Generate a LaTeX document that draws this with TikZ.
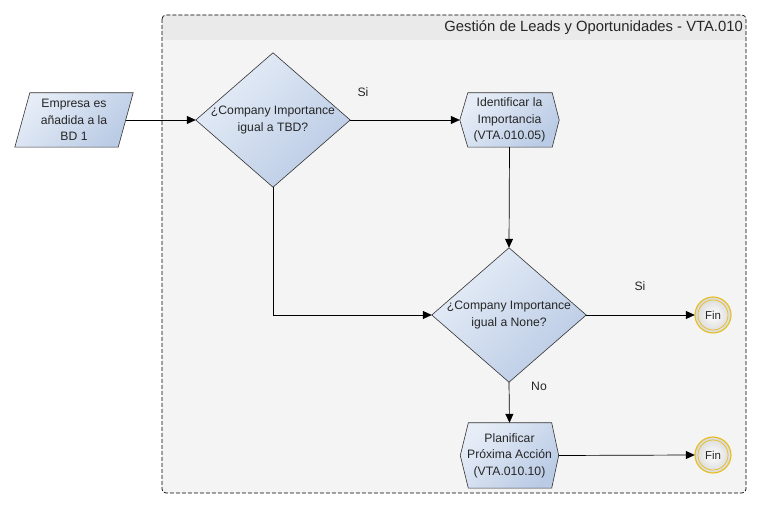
\documentclass[tikz,border=0pt]{standalone}
\usepackage{fontspec}
\setmainfont{Liberation Sans}
\usetikzlibrary{arrows.meta,calc}
\pgfdeclarelayer{bg}
\pgfsetlayers{bg,main}
\definecolor{shlight}{RGB}{230,237,247}
\definecolor{shdark}{RGB}{186,203,229}
\definecolor{finyel}{RGB}{230,190,30}
\definecolor{poolbg}{RGB}{244,244,244}
\definecolor{headbg}{RGB}{234,234,234}
\begin{document}
\begin{tikzpicture}[x=1pt,y=-1pt,
  shapefill/.style={draw=black!80, line width=0.6pt, top color=shlight, bottom color=shdark, shading angle=45},
  box/.style={draw=none, inner sep=0pt, align=center, font=\fontsize{12.2}{16.5}\selectfont, text=black!85},
  lbl/.style={font=\fontsize{12.2}{14}\selectfont, text=black!85, inner sep=0pt},
  conn/.style={line width=0.7pt, -{Triangle[length=9pt,width=8pt]}},
  finnode/.style={circle, minimum size=36pt, inner sep=0pt, font=\fontsize{11.5}{13}\selectfont, text=black!85}
]
\useasboundingbox (0,0) rectangle (761,510);

% nodes
\node[box, minimum width=103pt, minimum height=54pt] (start) at (74,120) {Empresa es\\añadida a la\\BD 1};
\node[box, minimum width=154pt, minimum height=134pt] (q1) at (273,120) {¿Company Importance\\igual a TBD?};
\node[box, minimum width=99pt, minimum height=54pt] (ident) at (509.5,120) {Identificar la\\Importancia\\(VTA.010.05)};
\node[box, minimum width=154pt, minimum height=134pt] (q2) at (509,315) {¿Company Importance\\igual a None?};
\node[box, minimum width=98pt, minimum height=65pt] (plan) at (509.5,455.5) {Planificar\\Próxima Acción\\(VTA.010.10)};
\node[finnode] (fin1) at (713,315) {Fin};
\node[finnode] (fin2) at (713,455) {Fin};
\node[anchor=east, font=\fontsize{14.8}{16}\selectfont, text=black!85, inner sep=0pt] (title) at (743,28) {Gestión de Leads y Oportunidades - VTA.010};
\node[lbl] (si1) at (363,92) {Si};
\node[lbl] (si2) at (640,286) {Si};
\node[lbl] (no1) at (539,386) {No};

\begin{pgfonlayer}{bg}
  % pool
  \fill[poolbg, rounded corners=4pt] (162,15) rectangle (746,493);
  \fill[headbg, rounded corners=4pt] (162,15) rectangle (746,40);
  \fill[headbg] (162,30) rectangle (746,38);
  \draw[line width=0.7pt, dash pattern=on 4pt off 2pt, rounded corners=4pt] (162,15) rectangle (746,493);
  % shapes
  \path[shapefill] ($(start.north west)+(7.5,0)$) -- ($(start.north east)+(7.5,0)$) -- ($(start.south east)+(-7.5,0)$) -- ($(start.south west)+(-7.5,0)$) -- cycle;
  \path[shapefill] (q1.north) -- (q1.east) -- (q1.south) -- (q1.west) -- cycle;
  \path[shapefill] (q2.north) -- (q2.east) -- (q2.south) -- (q2.west) -- cycle;
  \path[shapefill] (ident.west) -- ($(ident.north west)+(8,0)$) -- ($(ident.north east)+(-7,0)$) -- (ident.east) -- ($(ident.south east)+(-7,0)$) -- ($(ident.south west)+(8,0)$) -- cycle;
  \path[shapefill] (plan.west) -- ($(plan.north west)+(8,0)$) -- ($(plan.north east)+(-7,0)$) -- (plan.east) -- ($(plan.south east)+(-7,0)$) -- ($(plan.south west)+(8,0)$) -- cycle;
  \foreach \f in {fin1,fin2}{
    \shade[inner color=white, outer color=black!15] (\f.center) circle (18pt);
    \draw[finyel, line width=1.1pt] (\f.center) circle (18pt);
    \draw[finyel, line width=0.7pt] (\f.center) circle (15pt);
  }
\end{pgfonlayer}

% connectors
\draw[conn] (start.east) -- (q1.west);
\draw[conn] (q1.east) -- (ident.west);
\draw[conn] (ident.south) -- (q2.north);
\draw[conn] (q1.south) |- (q2.west);
\draw[conn] (q2.east) -- (fin1.west);
\draw[conn] (q2.south) -- (plan.north);
\draw[conn] (plan.east) -- (fin2.west);
\end{tikzpicture}
\end{document}
